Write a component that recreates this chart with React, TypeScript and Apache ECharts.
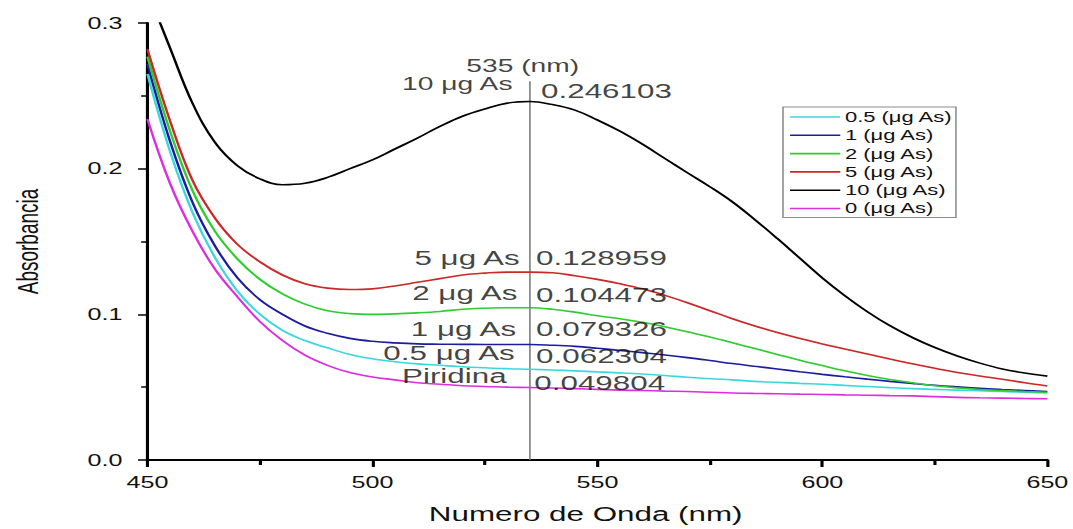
import React, { useEffect, useRef } from "react";
import * as echarts from "echarts";

// ---- data ----
const WAVELENGTHS = [450, 455, 460, 465, 470, 475, 480, 485, 490, 495, 500, 505, 510, 515, 520, 525, 530, 535, 540, 545, 550, 555, 560, 565, 570, 575, 580, 585, 590, 595, 600, 605, 610, 615, 620, 625, 630, 635, 640, 645, 650];

const ABS_0_5 = [0.265, 0.212, 0.17, 0.139, 0.116, 0.1, 0.089, 0.082, 0.077, 0.0725, 0.0695, 0.0675, 0.066, 0.065, 0.064, 0.0633, 0.0627, 0.0623, 0.0618, 0.0612, 0.0605, 0.0598, 0.059, 0.058, 0.0568, 0.0558, 0.055, 0.054, 0.0533, 0.0526, 0.052, 0.0512, 0.0505, 0.0497, 0.049, 0.0485, 0.048, 0.0475, 0.047, 0.0465, 0.046];
const ABS_1 = [0.272, 0.219, 0.177, 0.147, 0.125, 0.11, 0.1, 0.092, 0.087, 0.0835, 0.0815, 0.0804, 0.0797, 0.0795, 0.0794, 0.0793, 0.0793, 0.0793, 0.0788, 0.078, 0.0767, 0.0752, 0.0737, 0.0721, 0.0703, 0.0683, 0.0662, 0.0643, 0.0625, 0.0606, 0.0588, 0.0571, 0.0555, 0.054, 0.0526, 0.0513, 0.0502, 0.0492, 0.0484, 0.0477, 0.047];
const ABS_2 = [0.277, 0.226, 0.185, 0.157, 0.138, 0.124, 0.114, 0.107, 0.1025, 0.1005, 0.1, 0.1003, 0.101, 0.102, 0.1035, 0.1042, 0.1045, 0.1045, 0.1035, 0.1015, 0.099, 0.097, 0.0945, 0.0915, 0.088, 0.0845, 0.0805, 0.0765, 0.0725, 0.0685, 0.0648, 0.0612, 0.058, 0.0553, 0.053, 0.051, 0.0495, 0.0484, 0.0476, 0.047, 0.0465];
const ABS_5 = [0.282, 0.233, 0.192, 0.166, 0.148, 0.136, 0.127, 0.121, 0.118, 0.117, 0.1175, 0.1195, 0.122, 0.1245, 0.127, 0.1283, 0.129, 0.129, 0.1285, 0.1265, 0.124, 0.121, 0.1175, 0.113, 0.108, 0.1025, 0.097, 0.092, 0.0875, 0.0835, 0.0797, 0.0762, 0.0728, 0.0694, 0.0661, 0.063, 0.0601, 0.0577, 0.0555, 0.053, 0.0508];
const ABS_10 = [0.322, 0.283, 0.245, 0.218, 0.202, 0.193, 0.189, 0.19, 0.194, 0.2, 0.206, 0.2135, 0.221, 0.229, 0.236, 0.241, 0.245, 0.2461, 0.244, 0.2402, 0.2334, 0.2257, 0.2168, 0.207, 0.1972, 0.1876, 0.1772, 0.165, 0.152, 0.1385, 0.125, 0.1128, 0.1018, 0.0922, 0.0841, 0.0772, 0.0714, 0.0665, 0.0625, 0.0597, 0.0576];
const ABS_0 = [0.234, 0.19, 0.157, 0.131, 0.112, 0.095, 0.082, 0.072, 0.065, 0.06, 0.057, 0.055, 0.053, 0.052, 0.051, 0.0505, 0.05, 0.0498, 0.0494, 0.049, 0.0485, 0.048, 0.0477, 0.0473, 0.047, 0.0465, 0.046, 0.0457, 0.0455, 0.0452, 0.045, 0.0447, 0.0445, 0.0442, 0.044, 0.0435, 0.043, 0.0427, 0.0425, 0.0422, 0.042];

const SERIES_NAMES = ["0.5 (μg As)", "1 (μg As)", "2 (μg As)", "5 (μg As)", "10 (μg As)", "0 (μg As)"];
const SERIES_VALUES = [ABS_0_5, ABS_1, ABS_2, ABS_5, ABS_10, ABS_0];

const X_TICKS = [450, 500, 550, 600, 650];
const Y_TICKS = [0, 0.1, 0.2, 0.3];

const PEAK_NM = 535;
const PEAK_LABEL = "535 (nm)";
const SAMPLE_LABELS = ["10 μg As", "5 μg As", "2 μg As", "1 μg As", "0.5 μg As", "Piridina"];
const PEAK_VALUES = ["0.246103", "0.128959", "0.104473", "0.079326", "0.062304", "0.049804"];

// ---- layout / style ----
const PAGE_W = 1073;
const PAGE_H = 529;
const INNER_W = 684;
const SX = PAGE_W / INNER_W;
const FONT = "'Liberation Sans', Arial, Helvetica, sans-serif";
const COLORS = ["#3ad8dc", "#1c1ca0", "#2fcc2f", "#cc2828", "#000000", "#dc2edc"];

// annotation anchors in data space: [nm, absorbance]
const SAMPLE_ANCHORS: [number, number][] = [
  [531.3, 0.2585],
  [532.9, 0.1387],
  [532.4, 0.1148],
  [532.1, 0.0895],
  [531.8, 0.0736],
  [530.0, 0.0578],
];
const VALUE_ANCHORS: [number, number][] = [
  [537.3, 0.253],
  [536.2, 0.1387],
  [536.2, 0.1134],
  [536.2, 0.0895],
  [536.2, 0.0714],
  [535.8, 0.053],
];
const PEAK_LABEL_ANCHOR: [number, number] = [533.4, 0.2705];

function buildOption() {
  const lineSeries = SERIES_NAMES.map((name, i) => ({
    name,
    type: "line",
    data: WAVELENGTHS.map((w, j) => [w, SERIES_VALUES[i][j]]),
    smooth: 0.4,
    symbol: "none",
    showSymbol: false,
    clip: true,
    lineStyle: { color: COLORS[i], width: 1.6 },
    itemStyle: { color: COLORS[i] },
    z: 3,
  }));

  const annData: any[] = [];
  SAMPLE_LABELS.forEach((t, i) => {
    annData.push({
      value: SAMPLE_ANCHORS[i],
      label: {
        show: true,
        position: "left",
        distance: 0,
        formatter: t,
        fontSize: i === 0 ? 18 : 20,
        lineHeight: i === 0 ? 14 : 17,
      },
    });
  });
  PEAK_VALUES.forEach((t, i) => {
    annData.push({
      value: VALUE_ANCHORS[i],
      label: {
        show: true,
        position: "right",
        distance: 0,
        formatter: t,
        fontSize: 20,
        lineHeight: 17,
      },
    });
  });
  annData.push({
    value: PEAK_LABEL_ANCHOR,
    label: { show: true, position: "inside", formatter: PEAK_LABEL, fontSize: 18, lineHeight: 14 },
  });

  return {
    animation: false,
    backgroundColor: "#ffffff",
    textStyle: { fontFamily: FONT },
    grid: {
      left: 145 / SX,
      right: INNER_W - 1050 / SX,
      top: 23,
      bottom: PAGE_H - 462,
      containLabel: false,
    },
    legend: {
      data: SERIES_NAMES,
      orient: "vertical",
      left: 783 / SX,
      top: 107,
      icon: "rect",
      itemWidth: 32,
      itemHeight: 1.6,
      itemGap: 4.3,
      padding: [3, 2, 2, 4.5],
      borderColor: "#8c8c8c",
      borderWidth: 1,
      backgroundColor: "#ffffff",
      textStyle: { fontFamily: FONT, fontSize: 14, color: "#111", lineHeight: 14, padding: [0, 0, 0, -2] },
    },
    xAxis: {
      type: "value",
      min: X_TICKS[0],
      max: X_TICKS[X_TICKS.length - 1],
      interval: X_TICKS[1] - X_TICKS[0],
      name: "Numero de Onda (nm)",
      nameLocation: "middle",
      nameGap: 44,
      nameTextStyle: { fontFamily: FONT, fontSize: 20, color: "#111", padding: [0, 15, 0, 0] },
      axisLine: { show: true, onZero: false, lineStyle: { color: "#000", width: 2 } },
      axisTick: { show: true, inside: false, length: 7, lineStyle: { color: "#000", width: 2 } },
      minorTick: { show: true, splitNumber: 2, length: 5, lineStyle: { color: "#000", width: 2 } },
      axisLabel: { fontFamily: FONT, fontSize: 16, color: "#111", margin: 14 },
      splitLine: { show: false },
    },
    yAxis: {
      type: "value",
      min: Y_TICKS[0],
      max: Y_TICKS[Y_TICKS.length - 1],
      interval: Y_TICKS[1] - Y_TICKS[0],
      name: "Absorbancia",
      nameLocation: "middle",
      nameGap: 67,
      nameTextStyle: { fontFamily: FONT, fontSize: 19, color: "#111" },
      axisLine: { show: true, onZero: false, lineStyle: { color: "#000", width: 2 } },
      axisTick: { show: true, inside: false, length: 6, lineStyle: { color: "#000", width: 1.5 } },
      minorTick: { show: true, splitNumber: 2, length: 4, lineStyle: { color: "#000", width: 1.5 } },
      axisLabel: {
        fontFamily: FONT,
        fontSize: 16,
        color: "#111",
        margin: 16,
        formatter: (v: number) => v.toFixed(1),
      },
      splitLine: { show: false },
    },
    series: [
      {
        name: "peak-marker",
        type: "line",
        data: [
          [PEAK_NM, 0],
          [PEAK_NM, 0.26],
        ],
        symbol: "none",
        lineStyle: { color: "#7a7a7a", width: 1 },
        silent: true,
        z: 2,
      },
      ...lineSeries,
      {
        name: "annotations",
        type: "scatter",
        data: annData,
        symbolSize: 1,
        itemStyle: { color: "rgba(0,0,0,0)" },
        silent: true,
        label: {
          show: true,
          color: "#111",
          fontFamily: FONT,
          verticalAlign: "middle",
        },
        z: 5,
      },
    ],
  };
}

export default function App() {
  const ref = useRef<HTMLDivElement>(null);
  useEffect(() => {
    if (!ref.current) return;
    const chart = echarts.init(ref.current, null, { renderer: "svg" });
    chart.setOption(buildOption() as any);
    return () => chart.dispose();
  }, []);
  return (
    <div
      style={{
        position: "fixed",
        left: 0,
        top: 0,
        width: PAGE_W,
        height: PAGE_H,
        overflow: "hidden",
        background: "#ffffff",
      }}
    >
      <div
        ref={ref}
        style={{
          width: INNER_W,
          height: PAGE_H,
          transform: `scaleX(${SX})`,
          transformOrigin: "0 0",
        }}
      />
    </div>
  );
}
